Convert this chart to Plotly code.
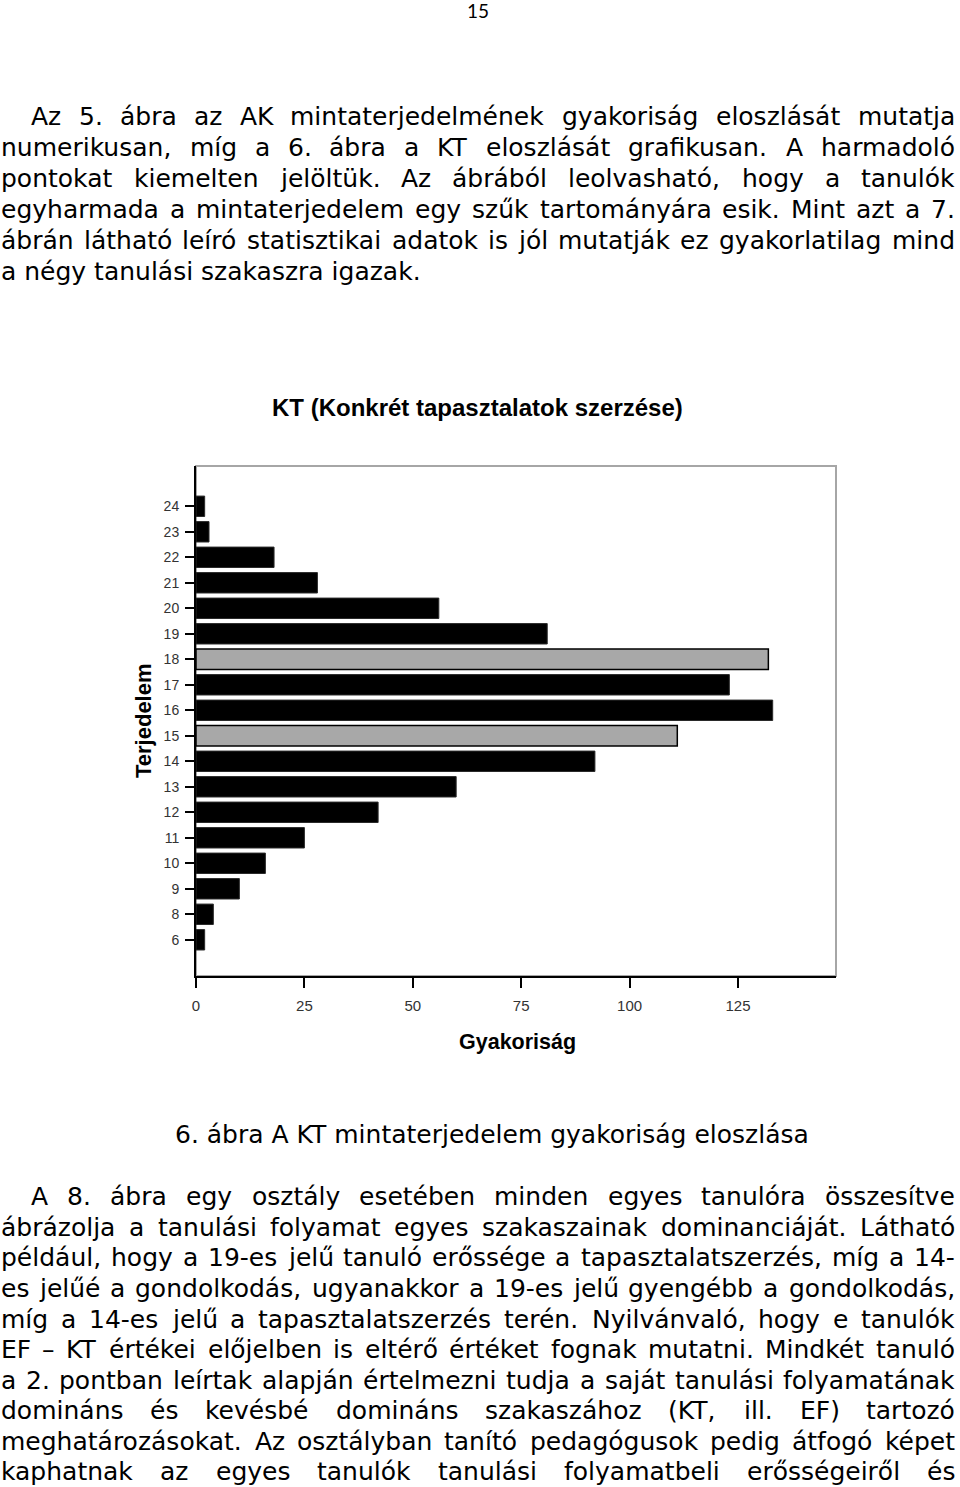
import unicodedata
import plotly.graph_objects as go

# ---------------- data ----------------
categories = ['24', '23', '22', '21', '20', '19', '18', '17', '16',
              '15', '14', '13', '12', '11', '10', '9', '8', '6']
frequency = [2, 3, 18, 28, 56, 81, 132, 123, 133,
             111, 92, 60, 42, 25, 16, 10, 4, 2]
quartile_points = ['18', '15']
x_ticks = [0, 25, 50, 75, 100, 125]

chart_title = 'KT (Konkrét tapasztalatok szerzése)'
x_title = 'Gyakoriság'
y_title = 'Terjedelem'
page_number = '15'
caption = '6. ábra A KT mintaterjedelem gyakoriság eloszlása'

para1 = [
    'Az 5. ábra az AK mintaterjedelmének gyakoriság eloszlását mutatja',
    'numerikusan, míg a 6. ábra a KT eloszlását grafikusan. A harmadoló',
    'pontokat kiemelten jelöltük. Az ábrából leolvasható, hogy a tanulók',
    'egyharmada a mintaterjedelem egy szűk tartományára esik. Mint azt a 7.',
    'ábrán látható leíró statisztikai adatok is jól mutatják ez gyakorlatilag mind',
    'a négy tanulási szakaszra igazak.',
]
para2 = [
    'A 8. ábra egy osztály esetében minden egyes tanulóra összesítve',
    'ábrázolja a tanulási folyamat egyes szakaszainak dominanciáját. Látható',
    'például, hogy a 19-es jelű tanuló erőssége a tapasztalatszerzés, míg a 14-',
    'es jelűé a gondolkodás, ugyanakkor a 19-es jelű gyengébb a gondolkodás,',
    'míg a 14-es jelű a tapasztalatszerzés terén. Nyilvánvaló, hogy e tanulók',
    'EF – KT értékei előjelben is eltérő értéket fognak mutatni. Mindkét tanuló',
    'a 2. pontban leírtak alapján értelmezni tudja a saját tanulási folyamatának',
    'domináns és kevésbé domináns szakaszához (KT, ill. EF) tartozó',
    'meghatározásokat. Az osztályban tanító pedagógusok pedig átfogó képet',
    'kaphatnak az egyes tanulók tanulási folyamatbeli erősségeiről és',
]
para1_y = [116, 147, 178, 209, 240, 271]
para2_y = [1196, 1227, 1257, 1288, 1319, 1349, 1380, 1410, 1441, 1471]
para1_justify = [True, True, True, True, True, False]
para2_justify = [True] * 10

# ---------------- geometry ----------------
W, H = 960, 1487
PL, PR, PT, PB = 196, 836, 466, 976
TEXT_L, TEXT_R, INDENT = 1, 955, 30


def px(x, y):
    return (x - PL) / (PR - PL), (PB - y) / (PB - PT)


# DejaVu Sans advance widths (em)
ADV = {' ': .318, 'a': .613, 'b': .635, 'c': .550, 'd': .635, 'e': .615, 'f': .352,
       'g': .635, 'h': .634, 'i': .278, 'j': .278, 'k': .579, 'l': .278, 'm': .974,
       'n': .634, 'o': .612, 'p': .635, 'q': .635, 'r': .411, 's': .521, 't': .392,
       'u': .634, 'v': .592, 'w': .818, 'x': .592, 'y': .592, 'z': .525,
       'A': .684, 'B': .686, 'C': .698, 'D': .770, 'E': .632, 'F': .575, 'G': .775,
       'H': .752, 'I': .295, 'J': .295, 'K': .656, 'L': .557, 'M': .863, 'N': .748,
       'O': .787, 'P': .603, 'R': .695, 'S': .635, 'T': .611,
       '.': .318, ',': .318, '-': .361, '–': .500, '(': .390, ')': .390}


def tw(s, size):
    t = 0.0
    for c in s:
        b = unicodedata.normalize('NFD', c)[0]
        t += ADV.get(b, .636 if b.isdigit() else .6)
    return t * size


BODY_FONT = 'DejaVu Sans'
size = 25.0
for lines, just in ((para1, para1_justify), (para2, para2_justify)):
    for i, (ln, j) in enumerate(zip(lines, just)):
        x0 = TEXT_L + (INDENT if i == 0 else 0)
        avail = TEXT_R - x0
        need = tw(ln, 1.0)
        if need * size > avail:
            size = avail / need
body_size = size

annotations = []


def add_text(text, x, y, xanchor='left', size=body_size, family=BODY_FONT,
             color='black', bold=False, angle=0):
    xp, yp = px(x, y)
    annotations.append(dict(
        text=f'<b>{text}</b>' if bold else text, x=xp, y=yp, xref='paper', yref='paper',
        xanchor=xanchor, yanchor='middle', showarrow=False, borderpad=0, borderwidth=0,
        textangle=angle, font=dict(family=family, size=size, color=color)))


def add_line(text, y, x0, x1, justify):
    words = text.split(' ')
    if not justify or len(words) == 1:
        add_text(text, x0, y)
        return
    ws = [tw(w, body_size) for w in words]
    gap = (x1 - x0 - sum(ws)) / (len(words) - 1)
    x = x0
    for k, (w, wd) in enumerate(zip(words, ws)):
        if k == len(words) - 1:
            add_text(w, x1, y, xanchor='right')
        else:
            add_text(w, x, y)
        x += wd + gap


for lines, ys, just in ((para1, para1_y, para1_justify), (para2, para2_y, para2_justify)):
    for i, (ln, y, j) in enumerate(zip(lines, ys, just)):
        add_line(ln, y, TEXT_L + (INDENT if i == 0 else 0), TEXT_R, j)

add_text(caption, 492, 1134, xanchor='center', size=body_size)
add_text(page_number, 478, 10, xanchor='center', size=19, family='Lato')

CHART_FONT = 'Liberation Sans, Arial, sans-serif'
add_text(chart_title, 477, 407, xanchor='center', size=24, family=CHART_FONT, bold=True)
add_text(x_title, 517, 1042, xanchor='center', size=21.5, family=CHART_FONT, bold=True)
add_text(y_title, 143, 721, xanchor='center', size=22, family=CHART_FONT, bold=True, angle=-90)

# ---------------- bars ----------------
fill = ['#a8a8a8' if c in quartile_points else '#000000' for c in categories]
edge = ['#000000' if c in quartile_points else '#2a2a2a' for c in categories]
edge_w = [1.5 if c in quartile_points else 1 for c in categories]

fig = go.Figure(go.Bar(
    x=frequency, y=categories, orientation='h', width=0.8,
    marker=dict(color=fill, line=dict(color=edge, width=edge_w)),
    hoverinfo='x+y'))

fig.update_layout(
    width=W, height=H,
    margin=dict(l=PL, r=W - PR, t=PT, b=H - PB, pad=0),
    paper_bgcolor='white', plot_bgcolor='white', showlegend=False,
    annotations=annotations,
    shapes=[dict(type='rect', xref='paper', yref='paper', x0=0, x1=1, y0=0, y1=1,
                 line=dict(color='#a6a6a6', width=2), layer='below')],
    xaxis=dict(range=[0, 147.6], tickvals=x_ticks, ticks='outside', ticklen=10,
               tickwidth=1.5, tickcolor='black', showline=True, linecolor='black',
               linewidth=2, showgrid=False, zeroline=False, ticklabelstandoff=5,
               tickfont=dict(family=CHART_FONT, size=15, color='#333333')),
    yaxis=dict(type='category', categoryorder='array',
               categoryarray=list(reversed(categories)), range=[-1.42, 18.58],
               ticks='outside', ticklen=9, tickwidth=1.5, tickcolor='black',
               showline=True, linecolor='black', linewidth=2, showgrid=False,
               zeroline=False, ticklabelstandoff=3,
               tickfont=dict(family=CHART_FONT, size=14, color='#333333')),
)

fig.write_html('out.html')
